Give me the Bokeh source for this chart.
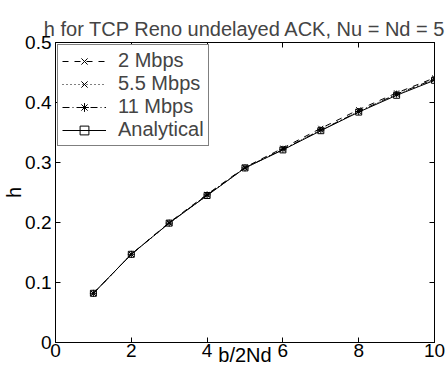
import math
from bokeh.plotting import figure
from bokeh.models import Range1d, FixedTicker, LinearAxis, Legend, LegendItem
from bokeh.embed import file_html
from bokeh.resources import INLINE

x_vals = [1, 2, 3, 4, 5, 6, 7, 8, 9, 10]
h_2mbps = [0.082, 0.147, 0.200, 0.247, 0.292, 0.324, 0.357, 0.388, 0.416, 0.441]
h_5_5mbps = [0.082, 0.147, 0.199, 0.245, 0.291, 0.322, 0.354, 0.385, 0.413, 0.438]
h_11mbps = [0.082, 0.147, 0.199, 0.246, 0.291, 0.322, 0.354, 0.385, 0.414, 0.439]
h_analytical = [0.082, 0.147, 0.199, 0.245, 0.291, 0.321, 0.353, 0.384, 0.412, 0.437]

x_ticks = [0, 2, 4, 6, 8, 10]
y_ticks = [0, 0.1, 0.2, 0.3, 0.4, 0.5]

title_text = "h for TCP Reno undelayed ACK, Nu = Nd = 5"
x_label = "b/2Nd"
y_label = "h"

FONT = "Liberation Sans"

p = figure(width=447, height=372, output_backend="svg", toolbar_location=None,
           x_range=Range1d(0, 10), y_range=Range1d(0, 0.5),
           min_border_left=54, min_border_top=42, min_border_right=13, min_border_bottom=30)
p.background_fill_color = "white"
p.border_fill_color = "white"
p.outline_line_color = "black"
p.outline_line_width = 1
p.xgrid.visible = False
p.ygrid.visible = False

p.title.text = title_text
p.title.text_font = FONT
p.title.text_font_size = "20px"
p.title.text_font_style = "normal"
p.title.align = "center"
p.title.standoff = 5

for ax, ticks in ((p.xaxis[0], x_ticks), (p.yaxis[0], y_ticks)):
    ax.ticker = FixedTicker(ticks=ticks)
    ax.major_tick_in = 5
    ax.major_tick_out = 0
    ax.minor_tick_line_color = None
    ax.axis_line_color = "black"
    ax.major_tick_line_color = "black"
    ax.major_label_text_font = FONT
    ax.major_label_text_font_size = "19px"
    ax.major_label_text_color = "black"
    ax.axis_label_text_font = FONT
    ax.axis_label_text_font_size = "20px"
    ax.axis_label_text_font_style = "normal"
    ax.axis_label_text_color = "black"
p.xaxis[0].major_label_standoff = 1
p.yaxis[0].major_label_standoff = 4
p.xaxis[0].axis_label = x_label
p.yaxis[0].axis_label = y_label
p.xaxis[0].axis_label_standoff = -16
p.yaxis[0].axis_label_standoff = -3

top_ax = LinearAxis(ticker=FixedTicker(ticks=[], minor_ticks=x_ticks),
                    minor_tick_in=5, minor_tick_out=0, major_tick_in=0, major_tick_out=0)
right_ax = LinearAxis(ticker=FixedTicker(ticks=[], minor_ticks=y_ticks),
                      minor_tick_in=5, minor_tick_out=0, major_tick_in=0, major_tick_out=0)
p.add_layout(top_ax, "above")
p.add_layout(right_ax, "right")

series = [
    ("2 Mbps", h_2mbps, "dashed", "x", 7),
    ("5.5 Mbps", h_5_5mbps, "1 3", "x", 5),
    ("11 Mbps", h_11mbps, "7 3 1 3", "asterisk", 7),
    ("Analytical", h_analytical, "solid", "square", 6),
]

items = []
for name, ys, dash, marker, size in series:
    r1 = p.line(x_vals, ys, line_color="black", line_width=1, line_dash=dash)
    r2 = p.scatter(x_vals, ys, marker=marker, size=size, line_color="black",
                   fill_color=None, line_width=1)
    items.append(LegendItem(label=name, renderers=[r1, r2]))

legend = Legend(items=items, location="top_left")
legend.margin = 2
legend.padding = 4
legend.spacing = 0
legend.label_height = 22
legend.glyph_height = 22
legend.glyph_width = 44
legend.label_standoff = 12
legend.label_text_font = FONT
legend.label_text_font_size = "20px"
legend.border_line_color = "black"
legend.border_line_width = 1
legend.background_fill_color = "white"
legend.background_fill_alpha = 1
p.add_layout(legend, "center")

open("out.html", "w").write(file_html(p, INLINE))
